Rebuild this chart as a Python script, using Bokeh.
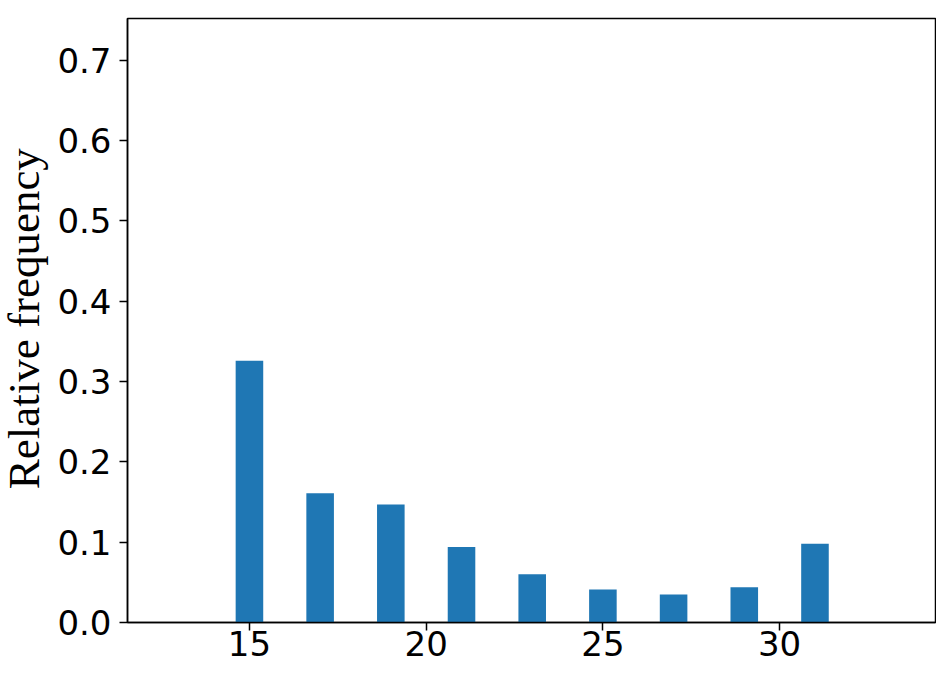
import math
from bokeh.plotting import figure
from bokeh.layouts import row
from bokeh.models import Range1d, FixedTicker, CustomJSTickFormatter
from bokeh.core.properties import value
from bokeh.embed import file_html
from bokeh.resources import INLINE

# data
bins = [15, 17, 19, 21, 23, 25, 27, 29, 31]
freq = [0.326, 0.161, 0.147, 0.094, 0.060, 0.041, 0.035, 0.044, 0.098]
x_ticks = [15, 20, 25, 30]
y_ticks = [0.0, 0.1, 0.2, 0.3, 0.4, 0.5, 0.6, 0.7]
y_title = ["Relative frequency"]

LW, H = 54, 668

# narrow panel holding the rotated y-axis title
q = figure(width=LW, height=H, output_backend="svg", toolbar_location=None,
           x_range=Range1d(0, LW), y_range=Range1d(0, H),
           x_axis_location=None, y_axis_location=None,
           min_border_left=0, min_border_right=0, min_border_top=0, min_border_bottom=0)
q.grid.visible = False
q.outline_line_color = None
q.text(x=[23], y=[H - 332], text=y_title, angle=math.pi / 2,
       text_align="center", text_baseline="alphabetic",
       text_font=value("Liberation Serif"), text_font_size="45px", text_color="black")

p = figure(width=936 - LW, height=H, output_backend="svg", toolbar_location=None,
           x_range=Range1d(11.55, 34.41), y_range=Range1d(0, 0.752),
           min_border_left=126 - LW, min_border_right=1, min_border_top=18, min_border_bottom=46)

p.vbar(x=bins, top=freq, width=0.78, bottom=0, color="#1f77b4", line_color=None)

p.grid.visible = False
p.outline_line_color = "black"
p.outline_line_width = 1.5
p.outline_line_alpha = 1

p.xaxis.ticker = FixedTicker(ticks=x_ticks)
p.yaxis.ticker = FixedTicker(ticks=y_ticks)
p.yaxis.formatter = CustomJSTickFormatter(code="return tick.toFixed(1);")

for ax in (p.xaxis[0], p.yaxis[0]):
    ax.axis_line_color = "black"
    ax.axis_line_width = 1.5
    ax.major_tick_line_color = "black"
    ax.major_tick_line_width = 1.5
    ax.major_tick_out = 8
    ax.major_tick_in = 0
    ax.minor_tick_line_color = None
    ax.major_label_text_font = "DejaVu Sans"
    ax.major_label_text_font_size = "34px"
    ax.major_label_text_color = "black"

p.yaxis.major_label_standoff = 8
p.xaxis.major_label_standoff = 0

layout = row(q, p, spacing=0)
open("out.html", "w").write(file_html(layout, INLINE))
